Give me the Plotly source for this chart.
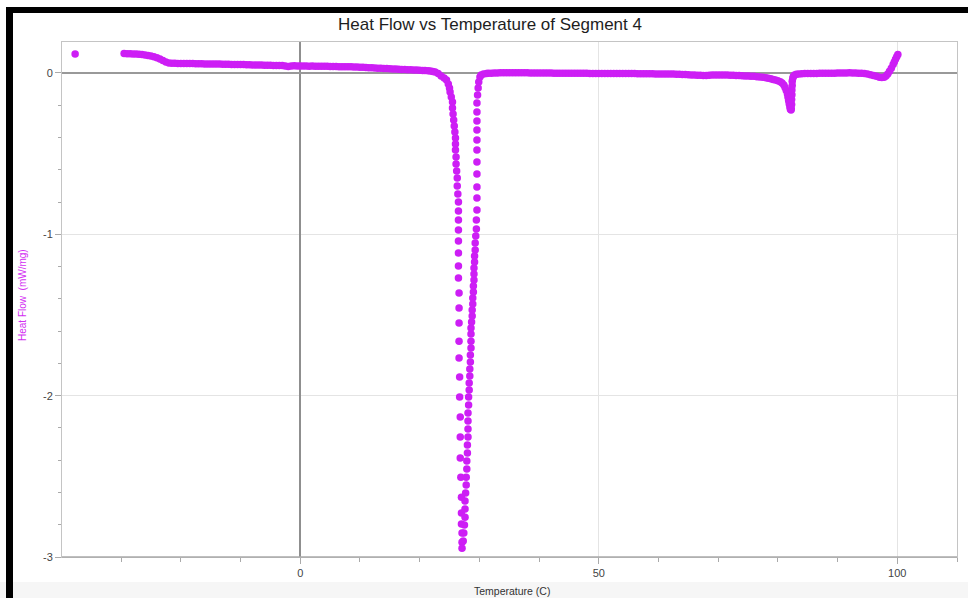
import plotly.graph_objects as go

# ---- data ----
temp_outlier = [-37.7]
flow_outlier = [0.118]

temp_base_left = [-29.5, -29, -28.5, -28, -27.5, -27, -26.5, -26, -25.5, -25, -24.5, -24, -23.5, -23, -22.5, -22,
                  -21.5, -21, -20.5, -20, -19.5, -19, -18.5, -18, -17.5, -17, -16.5, -16, -15.5, -15, -14.5, -14,
                  -13.5, -13, -12.5, -12, -11.5, -11, -10.5, -10, -9.5, -9, -8.5, -8, -7.5, -7, -6.5, -6, -5.5, -5,
                  -4.5, -4, -3.5, -3, -2.5, -2, -1.5, -1, -0.5, 0,
                  0.5, 1, 1.5, 2, 2.5, 3, 3.5, 4, 4.5, 5, 5.5, 6, 6.5, 7, 7.5, 8, 8.5, 9, 9.5, 10,
                  10.5, 11, 11.5, 12, 12.5, 13, 13.5, 14, 14.5, 15, 15.5, 16, 16.5, 17, 17.5, 18, 18.5, 19, 19.5, 20]
flow_base_left = [0.120, 0.119, 0.119, 0.118, 0.117, 0.116, 0.114, 0.112, 0.109, 0.105, 0.100, 0.094, 0.086, 0.077, 0.068, 0.062,
                  0.060, 0.060, 0.059, 0.059, 0.059, 0.058, 0.058, 0.058, 0.057, 0.057,
                  0.057, 0.056, 0.056, 0.056, 0.055, 0.055, 0.055, 0.054, 0.054, 0.054,
                  0.053, 0.053, 0.052, 0.052, 0.052, 0.051, 0.051, 0.050, 0.050, 0.049,
                  0.049, 0.048, 0.048, 0.048, 0.047, 0.047, 0.046, 0.046, 0.043, 0.040,
                  0.044, 0.045, 0.044, 0.044,
                  0.043, 0.043, 0.042, 0.044, 0.042, 0.042, 0.041, 0.041, 0.041, 0.040,
                  0.040, 0.040, 0.039, 0.039, 0.039, 0.038, 0.038, 0.037, 0.037, 0.036,
                  0.035, 0.034, 0.033, 0.032, 0.031, 0.030, 0.029, 0.028, 0.027, 0.026,
                  0.025, 0.024, 0.023, 0.022, 0.021, 0.020, 0.020, 0.019, 0.018, 0.017]

temp_melt_down = [20.5, 20.9, 21.4, 21.8, 22.2, 22.6, 23.1, 23.6, 24.1, 24.5,
                  24.8, 25.0, 25.1, 25.3, 25.5, 25.5, 25.6, 25.7, 25.8, 25.9,
                  26.0, 26.0, 26.0, 26.1, 26.1, 26.2, 26.3, 26.3, 26.4, 26.5,
                  26.5, 26.5, 26.5, 26.5, 26.5, 26.5, 26.5, 26.6, 26.6, 26.6,
                  26.6, 26.6, 26.7, 26.7, 26.8, 26.8, 26.8, 26.9, 27.0, 27.0,
                  27.0, 27.1, 27.1, 27.1]
flow_melt_down = [0.016, 0.016, 0.014, 0.012, 0.009, 0.006, -0.003, -0.019, -0.031, -0.043,
                  -0.068, -0.093, -0.118, -0.149, -0.180, -0.217, -0.254, -0.291, -0.329, -0.366,
                  -0.403, -0.440, -0.477, -0.521, -0.564, -0.608, -0.651, -0.701, -0.750, -0.800,
                  -0.856, -0.911, -0.973, -1.042, -1.116, -1.197, -1.271, -1.364, -1.457, -1.550,
                  -1.662, -1.767, -1.885, -2.009, -2.133, -2.257, -2.387, -2.505, -2.629, -2.728,
                  -2.796, -2.852, -2.908, -2.945]

temp_melt_up = [27.3, 27.4, 27.5, 27.6, 27.6, 27.6, 27.7, 27.8, 27.8, 27.9,
                27.9, 28.0, 28.0, 28.1, 28.1, 28.1, 28.1, 28.2, 28.2, 28.3,
                28.3, 28.4, 28.4, 28.5, 28.5, 28.6, 28.6, 28.6, 28.6, 28.7,
                28.8, 28.8, 28.9, 28.9, 29.0, 29.0, 29.1, 29.1, 29.1, 29.2,
                29.2, 29.3, 29.3, 29.4, 29.5, 29.5, 29.6, 29.6, 29.6, 29.6,
                29.6, 29.6, 29.6, 29.6, 29.6, 29.6, 29.6, 29.7, 29.8, 29.9,
                30.1, 30.3, 30.7, 31.2]
flow_melt_up = [-2.901, -2.852, -2.802, -2.753, -2.703, -2.653, -2.604, -2.554, -2.505, -2.455,
                -2.405, -2.356, -2.306, -2.257, -2.207, -2.157, -2.108, -2.058, -2.009, -1.965,
                -1.922, -1.878, -1.835, -1.792, -1.748, -1.705, -1.662, -1.618, -1.581, -1.544,
                -1.507, -1.469, -1.432, -1.395, -1.358, -1.321, -1.283, -1.246, -1.209, -1.172,
                -1.135, -1.097, -1.054, -1.011, -0.967, -0.911, -0.849, -0.775, -0.707, -0.626,
                -0.552, -0.477, -0.415, -0.353, -0.298, -0.242, -0.186, -0.136, -0.093, -0.056,
                -0.025, -0.012, -0.006, -0.003]

temp_base_mid = [31.5, 32, 32.5, 33, 33.5, 34, 34.5, 35, 35.5, 36, 36.5, 37, 37.5, 38, 38.5, 39, 39.5, 40,
                 40.5, 41, 41.5, 42, 42.5, 43, 43.5, 44, 44.5, 45, 45.5, 46, 46.5, 47, 47.5, 48, 48.5, 49, 49.5, 50,
                 50.5, 51, 51.5, 52, 52.5, 53, 53.5, 54, 54.5, 55, 55.5, 56, 56.5, 57, 57.5, 58, 58.5, 59, 59.5, 60,
                 60.5, 61, 61.5, 62, 62.5, 63, 63.5, 64, 64.5, 65, 65.5, 66, 66.5, 67, 67.5, 68, 68.5, 69, 69.5, 70,
                 70.5, 71, 71.5, 72, 72.5, 73, 73.5, 74, 74.5, 75, 75.5, 76, 76.5, 77, 77.5, 78]
flow_base_mid = [-0.002, -0.001, 0.000, 0.000, 0.001, 0.001, 0.001, 0.001, 0.001, 0.001, 0.001, 0.001, 0.001, 0.001,
                 0.000, 0.000, 0.000, 0.000,
                 0.000, 0.000, 0.000, 0.000, -0.001, -0.001, -0.001, -0.001, -0.001, -0.002,
                 -0.002, -0.002, -0.002, -0.002, -0.002, -0.002, -0.003, -0.003, -0.003, -0.003,
                 -0.003, -0.003, -0.003, -0.003, -0.004, -0.004, -0.004, -0.004, -0.004, -0.004,
                 -0.004, -0.004, -0.005, -0.005, -0.005, -0.005, -0.005, -0.005, -0.006, -0.006,
                 -0.006, -0.006, -0.007, -0.007, -0.007, -0.008, -0.008, -0.009, -0.010, -0.011,
                 -0.012, -0.013, -0.014, -0.014, -0.015, -0.015, -0.014, -0.013, -0.013, -0.013,
                 -0.013, -0.013, -0.013, -0.014, -0.014, -0.015, -0.016, -0.017, -0.018, -0.019,
                 -0.020, -0.021, -0.023, -0.025, -0.027, -0.030]

temp_peak2 = [78.4, 78.8, 79.2, 79.6, 80.0, 80.4, 80.7, 81.0, 81.2, 81.4,
              81.6, 81.7, 81.8, 81.9, 82.0, 82.1, 82.2, 82.25, 82.3, 82.3,
              82.35, 82.35, 82.4, 82.4, 82.5, 82.6, 82.8, 83.1, 83.5, 84.0]
flow_peak2 = [-0.033, -0.036, -0.040, -0.044, -0.048, -0.054, -0.062, -0.075, -0.090, -0.108,
              -0.130, -0.150, -0.170, -0.190, -0.210, -0.225, -0.230, -0.222, -0.195, -0.165,
              -0.135, -0.105, -0.078, -0.052, -0.033, -0.020, -0.012, -0.008, -0.006, -0.005]

temp_base_right = [84.5, 85, 85.5, 86, 86.5, 87, 87.5, 88, 88.5, 89, 89.5, 90, 90.5, 91, 91.5, 92, 92.5, 93,
                   93.5, 94, 94.5, 95, 95.5, 96, 96.5, 97, 97.4, 97.8, 98.1, 98.4, 98.7, 99.0, 99.3, 99.5,
                   99.7, 99.9, 100.1]
flow_base_right = [-0.004, -0.004, -0.003, -0.003, -0.003, -0.002, -0.002, -0.002, -0.001, -0.001,
                   -0.001, 0.000, 0.000, 0.000, 0.000, 0.001, 0.000, 0.000, -0.001, -0.002,
                   -0.004, -0.007, -0.011, -0.016, -0.021, -0.026,
                   -0.028, -0.026, -0.018, -0.006, 0.010, 0.030, 0.052, 0.068, 0.085, 0.100, 0.115]

x_tick_vals = [0, 50, 100]
x_tick_text = ["0", "50", "100"]
y_tick_vals = [-3, -2, -1, 0]
y_tick_text = ["-3", "-2", "-1", "0"]

temps = (temp_outlier + temp_base_left + temp_melt_down + temp_melt_up +
         temp_base_mid + temp_peak2 + temp_base_right)
flows = (flow_outlier + flow_base_left + flow_melt_down + flow_melt_up +
         flow_base_mid + flow_peak2 + flow_base_right)

MARK = "#cd1ef5"
FONT = "Liberation Sans, Arial, Helvetica, sans-serif"

fig = go.Figure()
fig.add_trace(go.Scatter(x=temps, y=flows, mode="markers",
                         marker=dict(size=7.5, color=MARK, line=dict(width=0)),
                         showlegend=False, hoverinfo="x+y"))

L, R, T, B = 62, 11, 42, 41
W, H = 968, 598
pw, ph = W - L - R, H - T - B


def px_x(px):
    return (px - L) / pw


def px_y(py):
    return (H - B - py) / ph


fig.update_layout(
    width=W, height=H,
    margin=dict(l=L, r=R, t=T, b=B, pad=0),
    paper_bgcolor="white", plot_bgcolor="white",
    font=dict(family=FONT, color="#333"),
    title=dict(text="Heat Flow vs Temperature of Segment 4",
               x=490 / W, xanchor="center", xref="container",
               y=1 - 24 / H, yanchor="middle", yref="container",
               font=dict(size=17, color="#1e1e1e", family=FONT)),
    xaxis=dict(range=[-39.9, 110], tickmode="array", tickvals=x_tick_vals, ticktext=x_tick_text,
               ticks="outside", ticklen=6, tickcolor="#aaaaaa", tickwidth=1,
               showgrid=True, gridcolor="#e4e4e4", gridwidth=1,
               zeroline=True, zerolinecolor="#8f8f8f", zerolinewidth=1.5,
               showline=True, linecolor="#c4c4c4", linewidth=1, mirror=True,
               tickfont=dict(size=11, color="#444"),
               minor=dict(tickmode="linear", tick0=0, dtick=10, ticks="outside", ticklen=4,
                          tickcolor="#aaaaaa", showgrid=False)),
    yaxis=dict(range=[-3, 0.192], tickmode="array", tickvals=y_tick_vals, ticktext=y_tick_text,
               ticks="outside", ticklen=6, tickcolor="#aaaaaa", tickwidth=1,
               showgrid=True, gridcolor="#e4e4e4", gridwidth=1,
               zeroline=True, zerolinecolor="#999999", zerolinewidth=2,
               showline=True, linecolor="#c4c4c4", linewidth=1, mirror=True,
               tickfont=dict(size=11, color="#444"),
               minor=dict(tickmode="linear", tick0=0, dtick=0.2, ticks="outside", ticklen=3,
                          tickcolor="#aaaaaa", showgrid=False)),
    annotations=[
        dict(text="Temperature (C)", xref="paper", yref="paper",
             x=px_x(512), y=px_y(591), xanchor="center", yanchor="middle",
             showarrow=False, font=dict(size=10.5, color="#333", family=FONT)),
        dict(text="Heat Flow  (mW/mg)", xref="paper", yref="paper",
             x=px_x(22), y=px_y(295), xanchor="center", yanchor="middle", textangle=-90,
             showarrow=False, font=dict(size=10, color="#d22ef2", family=FONT)),
    ],
    shapes=[
        # screenshot frame
        dict(type="rect", xref="paper", yref="paper", layer="below",
             x0=px_x(0), x1=px_x(W), y0=px_y(H), y1=px_y(582),
             fillcolor="#f6f6f6", line=dict(width=0)),
        dict(type="rect", xref="paper", yref="paper", layer="above",
             x0=px_x(6), x1=px_x(13), y0=px_y(H), y1=px_y(7),
             fillcolor="black", line=dict(width=0)),
        dict(type="rect", xref="paper", yref="paper", layer="above",
             x0=px_x(6), x1=px_x(W), y0=px_y(13), y1=px_y(7),
             fillcolor="black", line=dict(width=0)),
        # bottom axis line slightly heavier
        dict(type="line", xref="paper", yref="paper", layer="above",
             x0=0, x1=1, y0=0, y1=0, line=dict(color="#aaaaaa", width=1.5)),
    ],
)

fig.write_html("out.html")
